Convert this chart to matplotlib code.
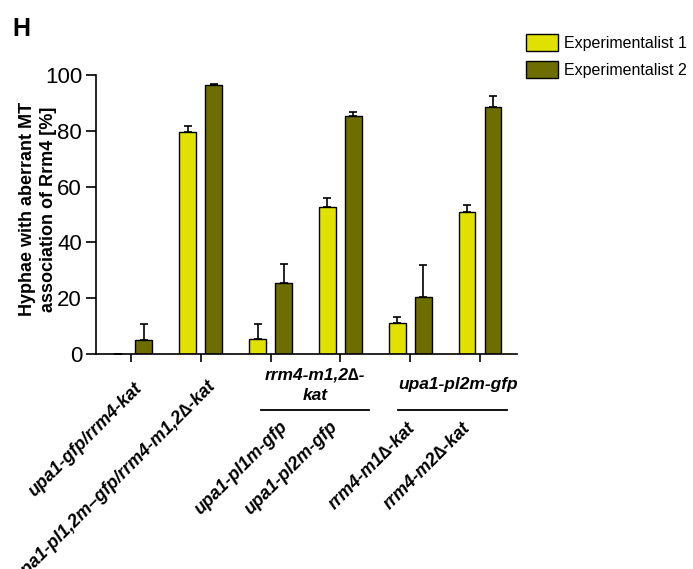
import numpy as np
import matplotlib
matplotlib.use("Agg")
import matplotlib.pyplot as plt

plt.rcParams['font.family'] = ['Liberation Sans', 'DejaVu Sans']

# data
strains = ["upa1-gfp/rrm4-kat",
           "upa1-pl1,2m\u2013gfp/rrm4-m1,2\u2206-kat",
           "upa1-pl1m-gfp",
           "upa1-pl2m-gfp",
           "rrm4-m1\u2206-kat",
           "rrm4-m2\u2206-kat"]
exp1 = [0, 79.6, 5.2, 52.8, 11.2, 50.9]
exp1_err = [0, 2.0, 5.7, 3.0, 2.2, 2.5]
exp2 = [5.0, 96.4, 25.6, 85.3, 20.4, 88.5]
exp2_err = [5.6, 0.3, 6.5, 1.4, 11.5, 3.9]
series_names = ["Experimentalist 1", "Experimentalist 2"]
group_headers = ["rrm4-m1,2\u2206-\nkat", "upa1-pl2m-gfp"]

col1 = "#e1e100"
col2 = "#6e6e00"

fig = plt.figure(figsize=(6.93, 5.69), dpi=100)
ax = fig.add_axes([0.1385, 0.3779, 0.6075, 0.4903])

x = np.arange(len(strains))
w = 0.24
off = 0.186

b1 = ax.bar(x - off, exp1, w, color=col1, edgecolor="black", linewidth=1, label=series_names[0], zorder=2)
b2 = ax.bar(x + off, exp2, w, color=col2, edgecolor="black", linewidth=1, label=series_names[1], zorder=2)
ax.errorbar(x - off, exp1, yerr=[np.zeros(len(exp1)), exp1_err], fmt="none",
            ecolor="black", elinewidth=1.2, capsize=3, capthick=1.2, zorder=3)
ax.errorbar(x + off, exp2, yerr=[np.zeros(len(exp2)), exp2_err], fmt="none",
            ecolor="black", elinewidth=1.2, capsize=3, capthick=1.2, zorder=3)

ax.set_xlim(-0.5, 5.53)
ax.set_ylim(0, 100)
ax.set_yticks([0, 20, 40, 60, 80, 100])
ax.set_xticks(x)
ax.set_xticklabels([])
ax.tick_params(axis="y", labelsize=16, direction="out", length=7, width=1.2, pad=3)
ax.tick_params(axis="x", direction="out", length=6, width=1.2)
for s in ["top", "right"]:
    ax.spines[s].set_visible(False)
for s in ["left", "bottom"]:
    ax.spines[s].set_linewidth(1.2)

ax.set_ylabel("Hyphae with aberrant MT\nassociation of Rrm4 [%]", fontsize=13,
              fontweight="bold", linespacing=1.3)
ax.yaxis.set_label_coords(-0.092, 0.52)

# rotated strain labels (top-right end placed near each tick)
offsets = [(3, -26), (6, -23), (8, -64), (-11, -64), (-3, -66), (-18, -66)]
for i, lbl in enumerate(strains):
    ax.annotate(lbl, xy=(x[i], 0), xycoords=("data", "axes fraction"),
                xytext=offsets[i], textcoords="offset pixels",
                rotation=45, rotation_mode="anchor", ha="right", va="top",
                fontsize=13, fontweight="bold", fontstyle="italic",
                annotation_clip=False)

# group headers with underlines
trans = ax.get_xaxis_transform()
ax.text(2.64, -0.111, group_headers[0], transform=trans, ha="center", va="center",
        fontsize=12.5, fontweight="bold", fontstyle="italic", linespacing=1.45)
ax.text(4.69, -0.111, group_headers[1], transform=trans, ha="center", va="center",
        fontsize=12.5, fontweight="bold", fontstyle="italic")
ax.plot([1.87, 3.41], [-0.2007, -0.2007], transform=trans, color="black", lw=1.3, clip_on=False)
ax.plot([3.83, 5.39], [-0.2007, -0.2007], transform=trans, color="black", lw=1.3, clip_on=False)

fig.legend(handles=[b1, b2], labels=series_names, loc="upper left",
           bbox_to_anchor=(523 / 693, 1 - 31 / 569), frameon=False, fontsize=11.5,
           handlelength=2.0, handleheight=1.2, handletextpad=0.35, labelspacing=0.65,
           borderaxespad=0, borderpad=0.2)

fig.text(12 / 693, 1 - 36 / 569, "H", fontsize=18, fontweight="bold", ha="left", va="baseline")

fig.savefig("out.png", dpi=100)
